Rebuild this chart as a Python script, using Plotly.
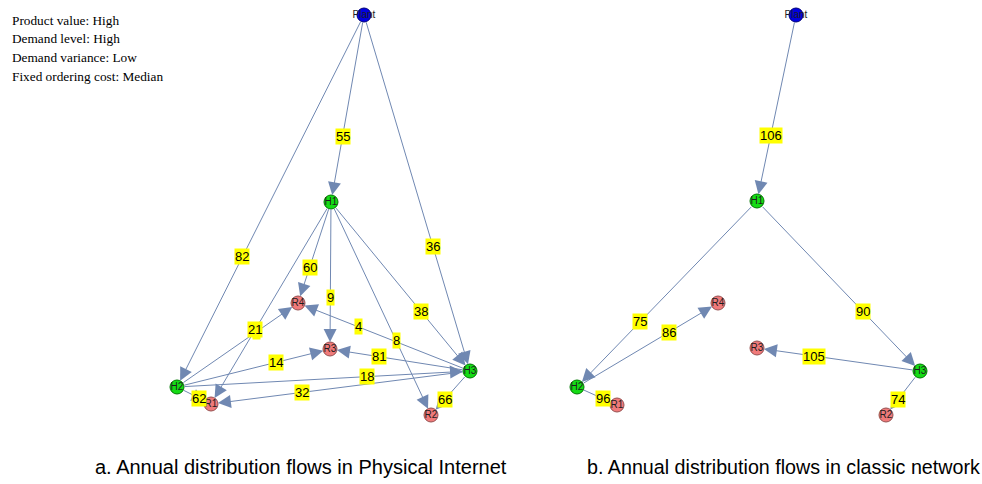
import plotly.graph_objects as go

# ---------------- data ----------------
info_lines = ["Product value: High", "Demand level: High",
              "Demand variance: Low", "Fixed ordering cost: Median"]

caption_a = "a. Annual distribution flows in Physical Internet"
caption_b = "b. Annual distribution flows in classic network"

# Panel a (Physical Internet) - node layout positions
a_nodes = ["Plant", "H1", "H2", "H3", "R1", "R2", "R3", "R4"]
a_x = [364, 331, 177, 470, 211, 431, 330, 298]
a_y = [15, 202, 387, 371, 404, 415, 349, 303]
a_src = ["Plant", "Plant", "Plant", "H1", "H1", "H1", "H1", "H2", "H1",
         "H2", "H2", "H2", "H3", "H3", "H3", "H3"]
a_dst = ["H1", "H2", "H3", "R4", "R3", "H3", "R2", "R4", "R1",
         "R3", "H3", "R1", "R4", "R3", "R1", "R2"]
a_flow = [55, 82, 36, 60, 9, 38, 8, 1, 21,
          14, 18, 62, 4, 81, 32, 66]
a_labelpos = [0.65, 0.65, 0.65, 0.65, 0.65, 0.65, 0.65, 0.66, 0.63,
              0.65, 0.65, 0.65, 0.65, 0.65, 0.65, 0.65]

# Panel b (classic network)
b_nodes = ["Plant", "H1", "H2", "H3", "R1", "R2", "R3", "R4"]
b_x = [796, 757, 577, 920, 617, 886, 757, 718]
b_y = [15, 201, 387, 371, 405, 415, 348, 303]
b_src = ["Plant", "H1", "H1", "H2", "H2", "H3", "H3"]
b_dst = ["H1", "H2", "H3", "R4", "R1", "R3", "R2"]
b_flow = [106, 75, 90, 86, 96, 105, 74]
b_labelpos = [0.65] * 7

# ---------------- styles ----------------
W, H = 982, 484
edge_color = "rgb(112,136,178)"
node_fill = {"P": "rgb(0,0,225)", "H": "rgb(20,220,20)", "R": "rgb(240,122,122)"}
node_line = {"P": "rgb(0,0,120)", "H": "rgb(0,120,0)", "R": "rgb(150,80,80)"}

fig = go.Figure()
annotations = []


def add_graph(nodes, xs, ys, src, dst, flow, lpos):
    pos = {n: (x, y) for n, x, y in zip(nodes, xs, ys)}
    # edges with arrows
    for s, d in zip(src, dst):
        x0, y0 = pos[s]
        x1, y1 = pos[d]
        annotations.append(dict(
            x=x1, y=y1, ax=x0, ay=y0, xref="x", yref="y", axref="x", ayref="y",
            text="", showarrow=True, arrowhead=2, arrowsize=2.6, arrowwidth=1,
            arrowcolor=edge_color, standoff=7, startstandoff=6))
    # flow labels
    for s, d, f, t in zip(src, dst, flow, lpos):
        x0, y0 = pos[s]
        x1, y1 = pos[d]
        annotations.append(dict(
            x=x0 + t * (x1 - x0), y=y0 + t * (y1 - y0), xref="x", yref="y",
            text=str(f), showarrow=False, bgcolor="rgb(255,255,0)", borderpad=0,
            font=dict(family="Liberation Sans, Arial", size=13, color="black")))
    # nodes
    fig.add_trace(go.Scatter(
        x=xs, y=ys, mode="markers+text", text=nodes, textposition="middle center",
        textfont=dict(family="Liberation Sans, Arial", size=10, color="rgb(30,30,30)"),
        marker=dict(size=14, color=[node_fill[n[0]] for n in nodes],
                    line=dict(width=1, color=[node_line[n[0]] for n in nodes])),
        hoverinfo="text", showlegend=False, cliponaxis=False))


add_graph(a_nodes, a_x, a_y, a_src, a_dst, a_flow, a_labelpos)
add_graph(b_nodes, b_x, b_y, b_src, b_dst, b_flow, b_labelpos)

for i, line in enumerate(info_lines):
    annotations.append(dict(
        x=10, y=20 + 18.7 * i, xref="x", yref="y", xanchor="left", yanchor="middle",
        align="left", text=line, showarrow=False,
        font=dict(family="Liberation Serif, Times New Roman", size=13.3, color="black")))

for cx, txt, sz in [(301, caption_a, 20), (783, caption_b, 19.7)]:
    annotations.append(dict(
        x=cx, y=467, xref="x", yref="y", text=txt, showarrow=False,
        font=dict(family="Liberation Sans, Arial", size=sz, color="black")))

fig.update_layout(
    width=W, height=H, margin=dict(l=0, r=0, t=0, b=0),
    plot_bgcolor="white", paper_bgcolor="white",
    xaxis=dict(range=[0, W], visible=False, fixedrange=True),
    yaxis=dict(range=[H, 0], visible=False, fixedrange=True),
    annotations=annotations, showlegend=False)

# remove the default page margin so the figure fills the 982x484 window exactly
fig.write_html("out.html", config={"displayModeBar": False},
               post_script="document.body.style.margin='0';document.body.style.overflow='hidden';")
